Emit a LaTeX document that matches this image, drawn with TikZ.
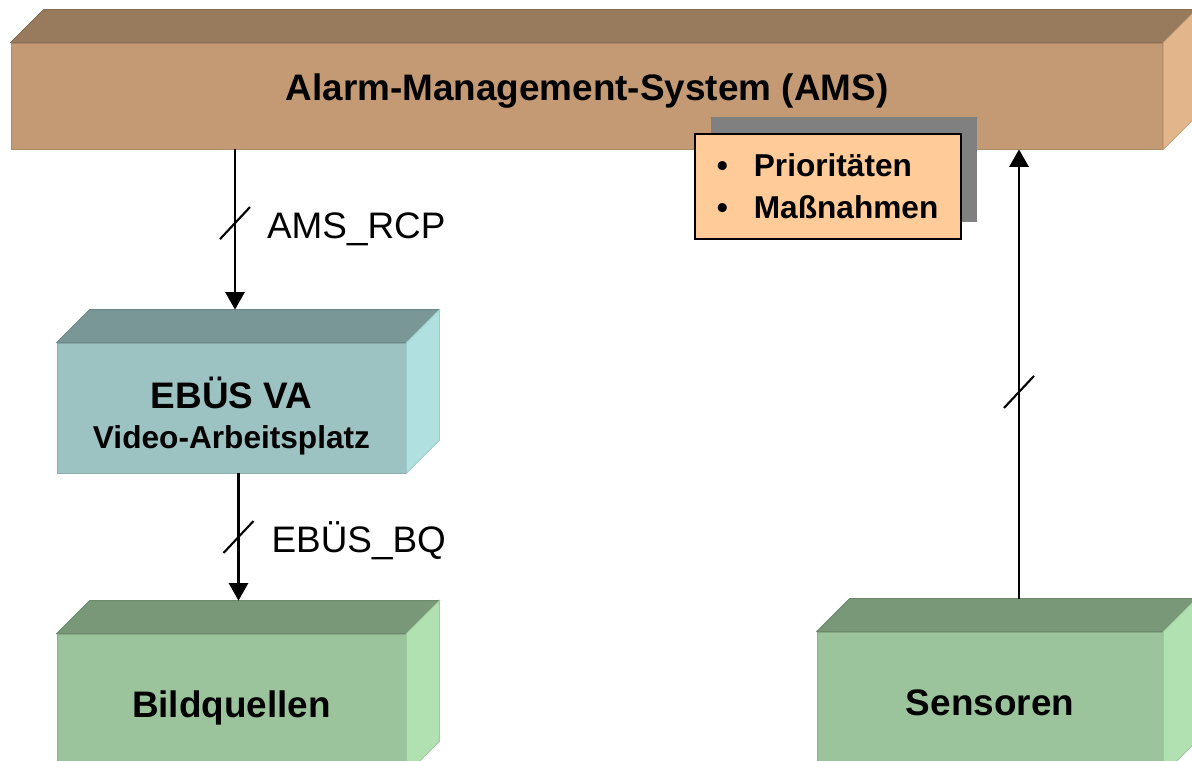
\documentclass[tikz,border=0pt]{standalone}
\usepackage{fontspec}
\setmainfont{Liberation Sans}
\usetikzlibrary{arrows.meta,shadows}

\definecolor{ams}{HTML}{C49A74}
\definecolor{ams-top}{HTML}{987A5C}
\definecolor{ams-side}{HTML}{E2B68A}
\definecolor{va}{HTML}{9CC3C2}
\definecolor{va-top}{HTML}{789796}
\definecolor{va-side}{HTML}{B1E0E0}
\definecolor{gr}{HTML}{9BC49C}
\definecolor{gr-top}{HTML}{789878}
\definecolor{gr-side}{HTML}{B1E0B1}
\definecolor{notefill}{HTML}{FFCC99}

\begin{document}
\begin{tikzpicture}[x=0.02cm, y=-0.02cm,
    every node/.style = {align=center, font=\bfseries\fontsize{21}{23}\selectfont},
    face/.style = {rectangle, inner sep=0pt, fill=#1, draw=#1!90!black, line width=0.5pt},
    conn/.style = {line width=1.2pt, -{Triangle[length=10pt, width=11pt]}},
    slash/.style = {line width=1.2pt},
    tag/.style = {anchor=west, inner sep=0pt, font=\fontsize{21}{23}\selectfont},
    note/.style = {rectangle, draw=black, line width=1pt, fill=notefill, align=left,
      minimum width=5.32cm, minimum height=2.1cm, text width=4.44cm, inner xsep=0.44cm,
      font=\bfseries\fontsize{18}{23.8}\selectfont,
      drop shadow={shadow xshift=0.32cm, shadow yshift=0.34cm, fill=black!50, opacity=1}}]
  \clip (0,0) rectangle (1192,760);

  % front faces
  \node[face=ams, minimum width=23.04cm, minimum height=2.12cm] (ams) at (587,96)
    {\raisebox{0.1cm}[\height][\depth]{Alarm-Management-System (AMS)}};
  \node[face=va, minimum width=6.98cm, minimum height=2.6cm] (va) at (231.5,408)
    {\raisebox{-0.22cm}[\height][\depth]{\begin{tabular}{@{}c@{}}EBÜS VA\\
      {\fontsize{18}{23}\selectfont Video-Arbeitsplatz}\end{tabular}}};
  \node[face=gr, minimum width=6.98cm, minimum height=2.8cm] (bq) at (231.5,704)
    {\raisebox{-0.08cm}[\height][\depth]{Bildquellen}};
  \node[face=gr, minimum width=6.92cm, minimum height=2.84cm] (sen) at (990,703) {Sensoren};

  % top and side faces
  \foreach \n/\c in {ams/ams, va/va, bq/gr, sen/gr} {
    \filldraw[fill=\c-top, draw=\c-top!90!black, line width=0.5pt]
      (\n.north west) -- ++(33,-33) -- ([shift={(33,-33)}]\n.north east) -- (\n.north east) -- cycle;
    \filldraw[fill=\c-side, draw=\c-side!90!black, line width=0.5pt]
      (\n.north east) -- ++(33,-33) -- ([shift={(33,-33)}]\n.south east) -- (\n.south east) -- cycle;
    \path (\n.north) ++(0,-33) coordinate (\n-lid);
  }

  \node[note, anchor=north west] (prio) at (694,133)
    {\makebox[0.74cm][l]{\textbullet}Prioritäten\\\makebox[0.74cm][l]{\textbullet}Maßnahmen};

  % connectors
  \path ([xshift=0.07cm]va-lid) coordinate (va-in);
  \draw[conn] (ams.south -| va-in) -- coordinate[pos=.46] (s1)
    node[tag, pos=.5, xshift=0.62cm] {AMS\_RCP} (va-in);
  \draw[slash] (s1) ++(-15,16) -- ++(30,-32);

  \draw[conn] ([xshift=0.14cm]va.south) -- coordinate[pos=.5] (s2)
    node[tag, pos=.53, xshift=0.64cm] {EBÜS\_BQ} ([xshift=0.14cm]bq-lid);
  \draw[slash] (s2) ++(-15,16) -- ++(30,-32);

  \path ([xshift=0.58cm]sen-lid) coordinate (sen-up);
  \draw[conn] (sen-up) -- coordinate[pos=.46] (s3) (sen-up |- ams.south);
  \draw[slash] (s3) ++(-15,16) -- ++(30,-32);
\end{tikzpicture}
\end{document}
